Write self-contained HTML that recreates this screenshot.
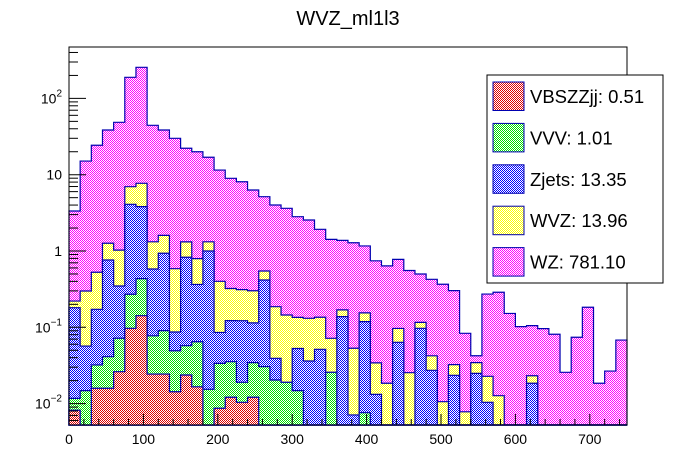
<!DOCTYPE html>
<html><head><meta charset="utf-8"><style>
html,body{margin:0;padding:0;background:#fff;}
svg{display:block;font-family:"Liberation Sans",Arial,sans-serif;}
</style></head><body>
<svg id="c" width="696" height="472" viewBox="0 0 696 472">
<defs>
<pattern id="p-mag" width="2" height="2" patternUnits="userSpaceOnUse"><rect width="2" height="2" fill="#fff"/><rect width="1" height="1" fill="#ff00ff"/><rect x="1" y="1" width="1" height="1" fill="#ff00ff"/></pattern>
<pattern id="p-yel" width="2" height="2" patternUnits="userSpaceOnUse"><rect width="2" height="2" fill="#fff"/><rect width="1" height="1" fill="#ffff00"/><rect x="1" y="1" width="1" height="1" fill="#ffff00"/></pattern>
<pattern id="p-blu" width="2" height="2" patternUnits="userSpaceOnUse"><rect width="2" height="2" fill="#fff"/><rect width="1" height="1" fill="#0000ff"/><rect x="1" y="1" width="1" height="1" fill="#0000ff"/></pattern>
<pattern id="p-grn" width="2" height="2" patternUnits="userSpaceOnUse"><rect width="2" height="2" fill="#fff"/><rect width="1" height="1" fill="#00e000"/><rect x="1" y="1" width="1" height="1" fill="#00e000"/></pattern>
<pattern id="p-red" width="2" height="2" patternUnits="userSpaceOnUse"><rect width="2" height="2" fill="#fff"/><rect width="1" height="1" fill="#e00000"/><rect x="1" y="1" width="1" height="1" fill="#e00000"/></pattern>
</defs>
<text x="348" y="25" text-anchor="middle" font-size="20">WVZ_ml1l3</text>
<g id="bars"></g>
<rect x="69" y="47" width="558" height="378" fill="none" stroke="#000" stroke-width="1"/>
<g id="axes"></g>
<g id="legend"></g>
</svg>
<script>
const binEdgesMin = 0, binWidth = 15, nBins = 50;
const seriesNames = ["VBSZZjj","VVV","Zjets","WVZ","WZ"];
const legendLabels = ["VBSZZjj: 0.51","VVV: 1.01","Zjets: 13.35","WVZ: 13.96","WZ: 781.10"];
const vbszzjj = [0.0082,0,0.0159,0.0159,0.0262,0.097,0.142,0.0244,0.0244,0.0143,0.0237,0.0166,0,0.0087,0.0121,0.0104,0.0121,0,0,0,0,0,0,0,0,0,0,0,0,0,0,0,0,0,0,0,0,0,0,0,0,0,0,0,0,0,0,0,0,0];
const vvv = [0.0035,0.0148,0.0162,0.0253,0.0456,0.174,0.292,0.053,0.066,0.035,0.0337,0.048,0.0154,0.025,0.0233,0.0086,0.0223,0.0305,0.0204,0.019,0.0148,0,0,0.0257,0,0,0.0076,0,0,0,0,0,0,0,0,0,0,0,0,0,0,0,0,0,0,0,0,0,0,0];
const zjets = [0.169,0.042,0.140,0.721,0.276,3.82,3.38,0.503,0.843,0.0375,0.77,0.30,0.985,0.052,0.087,0.103,0.080,0.386,0.0188,0,0.038,0.0362,0.0515,0,0.138,0.0071,0.111,0.0132,0,0.0636,0,0.097,0.0273,0,0.0235,0,0.0249,0.0104,0,0,0,0.0185,0,0,0,0,0,0,0,0];
const wvz = [0.040,0.242,0.354,0.50,0.68,2.87,3.90,0.74,0.67,0.50,0.49,0.43,0.32,0.315,0.20,0.19,0.187,0.13,0.147,0.126,0.082,0.095,0.084,0.046,0.031,0.046,0.036,0.021,0.0185,0.033,0.0254,0.019,0.015,0.0106,0.0089,0.0078,0.0095,0.0124,0.0127,0,0,0.0047,0,0,0,0,0,0,0,0];
const wz = [3.12,14.8,23.8,37.3,47.6,182,248,43.1,36.9,29.4,20.9,19.2,15.6,11.1,8.65,7.78,6.0,4.6,3.82,3.48,2.68,2.42,1.79,1.35,1.21,1.23,1.01,0.71,0.62,0.68,0.53,0.384,0.383,0.356,0.27,0.0756,0.008,0.25,0.275,0.152,0.102,0.082,0.096,0.081,0.0257,0.074,0.183,0.0185,0.0267,0.068];
const xTicks = [0,100,200,300,400,500,600,700];
const yDecades = [-2,-1,0,1,2];
const yTickLabels = ["10<tspan dy='-7' font-size='10'>−2</tspan>","10<tspan dy='-7' font-size='10'>−1</tspan>","1","10","10<tspan dy='-7' font-size='10'>2</tspan>"];

const NS="http://www.w3.org/2000/svg";
const X0=69,X1=627,Y0=47,Y1=425,XMAX=750;
function xs(v){return X0+(v/XMAX)*(X1-X0);}
function ys(v){ if(v<=0) return Y1; const y=251-76.3*Math.log10(v); return Math.max(Y0,Math.min(Y1,y)); }

const seriesData=[vbszzjj,vvv,zjets,wvz,wz];
const fills=["url(#p-red)","url(#p-grn)","url(#p-blu)","url(#p-yel)","url(#p-mag)"];
const bars=document.getElementById('bars');
// cumulative
const cum=[];let run=new Array(nBins).fill(0);
for(let s=0;s<seriesData.length;s++){run=run.map((r,i)=>r+seriesData[s][i]);cum.push(run.slice());}
for(let s=seriesData.length-1;s>=0;s--){
  let d="M"+xs(binEdgesMin)+","+Y1;
  for(let i=0;i<nBins;i++){
    const y=ys(cum[s][i]);
    d+=" L"+xs(binEdgesMin+i*binWidth)+","+y+" L"+xs(binEdgesMin+(i+1)*binWidth)+","+y;
  }
  d+=" L"+xs(binEdgesMin+nBins*binWidth)+","+Y1+" Z";
  const p=document.createElementNS(NS,'path');
  p.setAttribute('d',d);p.setAttribute('fill',fills[s]);p.setAttribute('stroke','#0000b0');p.setAttribute('stroke-width','1.2');
  
  
  bars.appendChild(p);
}
const axes=document.getElementById('axes');
function line(x1,y1,x2,y2,name){const l=document.createElementNS(NS,'line');l.setAttribute('x1',x1);l.setAttribute('y1',y1);l.setAttribute('x2',x2);l.setAttribute('y2',y2);l.setAttribute('stroke','#000');


axes.appendChild(l);}
for(let v=0;v<=XMAX;v+=20){const major=v%100===0;line(xs(v),Y1,xs(v),Y1-(major?11:6),major?'x-major-tick':'x-minor-tick');}
xTicks.forEach(v=>{const t=document.createElementNS(NS,'text');t.setAttribute('x',xs(v));t.setAttribute('y',444);t.setAttribute('text-anchor','middle');t.setAttribute('font-size','14');t.textContent=v;


axes.appendChild(t);});
for(let d=-3;d<=2;d++){for(let m=1;m<10;m++){const v=m*Math.pow(10,d);const y=251-76.3*Math.log10(v);if(y<Y0||y>Y1)continue;line(X0,y,X0+(m===1?17:9),y,m===1?'y-major-tick':'y-minor-tick');}}
yDecades.forEach((d,i)=>{const t=document.createElementNS(NS,'text');t.setAttribute('x',62);t.setAttribute('y',251-76.3*d+5);t.setAttribute('text-anchor','end');t.setAttribute('font-size','14');t.innerHTML=yTickLabels[i];


axes.appendChild(t);});
const lg=document.getElementById('legend');
const bg=document.createElementNS(NS,'rect');bg.setAttribute('x',487);bg.setAttribute('y',75);bg.setAttribute('width',176);bg.setAttribute('height',208);bg.setAttribute('fill','#fff');bg.setAttribute('stroke','#000');


lg.appendChild(bg);
for(let k=0;k<5;k++){
  const s=seriesData.length-1-(4-k); // order: VBSZZjj top
  const yTop=82+k*41.4;
  const r=document.createElementNS(NS,'rect');r.setAttribute('x',493);r.setAttribute('y',yTop);r.setAttribute('width',31);r.setAttribute('height',28.5);r.setAttribute('fill',fills[k]);r.setAttribute('stroke','#0000b0');
  
  
  lg.appendChild(r);
  const t=document.createElementNS(NS,'text');t.setAttribute('x',530);t.setAttribute('y',yTop+21);t.setAttribute('font-size','18.5');t.textContent=legendLabels[k];
  
  
  lg.appendChild(t);
}
</script>
</body></html>
